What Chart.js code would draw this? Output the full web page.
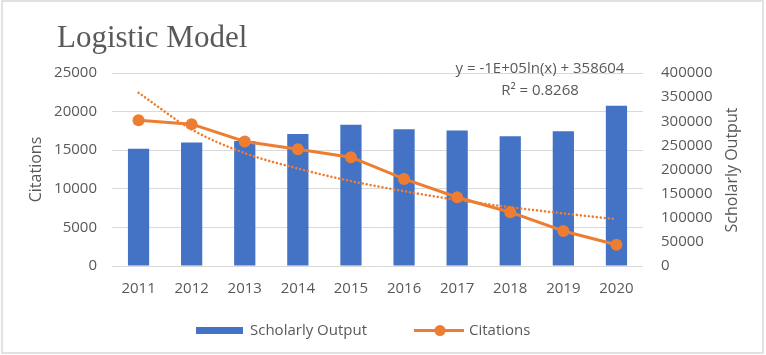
<!DOCTYPE html>
<html>

<head>
  <meta charset="UTF-8" />
  <title>Logistic Model</title>
  <script src="https://cdn.jsdelivr.net/npm/chart.js@4.4.1/dist/chart.umd.min.js"></script>
  <style>
    body { margin: 0; background: #fff; }
    #wrap { width: 766px; height: 355px; }
  </style>
</head>

<body>
  <div id="wrap"><canvas id="chart" width="766" height="355"></canvas></div>
  <script>
    const years = ['2011', '2012', '2013', '2014', '2015', '2016', '2017', '2018', '2019', '2020'];
    // bars, read on the left axis
    const scholarlyOutput = [15200, 16000, 16200, 17100, 18300, 17700, 17550, 16800, 17450, 20750];
    // line, read on the right axis
    const citations = [302000, 294000, 258000, 242000, 225500, 180500, 142500, 111500, 72500, 44000];
    // dotted trend line, read on the right axis
    const citationsTrend = [359000, 283000, 234000, 202000, 176000, 155000, 137000, 122000, 109000, 97000];
    const leftTicks = [0, 5000, 10000, 15000, 20000, 25000];
    const rightTicks = [0, 50000, 100000, 150000, 200000, 250000, 300000, 350000, 400000];

    const grey = '#595959';
    const blue = '#4472C4';
    const orange = '#ED7D31';
    const font = 'Open Sans';

    const extras = {
      id: 'extras',
      afterDraw(chart) {
        const ctx = chart.ctx;
        ctx.save();
        // outer frame
        ctx.strokeStyle = '#d9d9d9';
        ctx.lineWidth = 1.5;
        ctx.strokeRect(2, 1, 761, 352);

        // title
        ctx.fillStyle = grey;
        ctx.font = '31px "Liberation Serif"';
        ctx.textAlign = 'left';
        ctx.textBaseline = 'alphabetic';
        ctx.fillText('Logistic Model', 57, 47);

        // trend equation
        ctx.font = '15px "' + font + '"';
        ctx.textAlign = 'center';
        ctx.textBaseline = 'middle';
        ctx.fillText('y = -1E+05ln(x) + 358604', 540, 69);
        ctx.fillText('R² = 0.8268', 540, 91);

        // right axis title, reading upwards
        ctx.save();
        ctx.translate(732, 170);
        ctx.rotate(-Math.PI / 2);
        ctx.font = '16px "' + font + '"';
        ctx.fillText('Scholarly Output', 0, 0);
        ctx.restore();

        // legend
        ctx.fillStyle = blue;
        ctx.fillRect(196, 327, 47, 7);
        ctx.fillStyle = grey;
        ctx.font = '15px "' + font + '"';
        ctx.textAlign = 'left';
        ctx.fillText('Scholarly Output', 250, 331);
        ctx.strokeStyle = orange;
        ctx.lineWidth = 3;
        ctx.beginPath();
        ctx.moveTo(414, 330.5);
        ctx.lineTo(464, 330.5);
        ctx.stroke();
        ctx.fillStyle = orange;
        ctx.beginPath();
        ctx.arc(440, 330.5, 5.5, 0, Math.PI * 2);
        ctx.fill();
        ctx.fillStyle = grey;
        ctx.fillText('Citations', 469, 331);
        ctx.restore();
      }
    };

    const plain = v => String(v);

    new Chart(document.getElementById('chart'), {
      data: {
        labels: years,
        datasets: [
          {
            type: 'line',
            label: 'Trend',
            data: citationsTrend,
            yAxisID: 'y2',
            borderColor: orange,
            borderWidth: 2.6,
            borderDash: [0.01, 4],
            borderCapStyle: 'round',
            cubicInterpolationMode: 'monotone',
            pointRadius: 0,
            order: 0
          },
          {
            type: 'line',
            label: 'Citations',
            data: citations,
            yAxisID: 'y2',
            borderColor: orange,
            backgroundColor: orange,
            borderWidth: 3,
            pointRadius: 6,
            pointBorderWidth: 0,
            order: 1
          },
          {
            type: 'bar',
            label: 'Scholarly Output',
            data: scholarlyOutput,
            yAxisID: 'y',
            backgroundColor: blue,
            categoryPercentage: 1,
            barPercentage: 0.4,
            order: 2
          }
        ]
      },
      options: {
        responsive: false,
        animation: false,
        layout: { padding: { top: 73, bottom: 59, left: 0, right: 0 } },
        plugins: {
          legend: { display: false },
          title: { display: false },
          tooltip: { enabled: false }
        },
        scales: {
          x: {
            grid: { display: false, drawTicks: false },
            border: { display: false },
            ticks: { color: grey, font: { family: font, size: 15 }, padding: 14 },
            afterFit: s => { s.height = 30; }
          },
          y: {
            position: 'left',
            min: 0,
            max: 25000,
            afterBuildTicks: s => { s.ticks = leftTicks.map(v => ({ value: v })); },
            grid: { color: '#d9d9d9', lineWidth: 1, drawTicks: false },
            border: { display: false },
            ticks: { color: grey, font: { family: font, size: 15 }, padding: 15, callback: plain },
            title: {
              display: true,
              text: 'Citations',
              color: grey,
              font: { family: font, size: 16 },
              padding: { top: 27, bottom: 0 }
            },
            afterFit: s => { s.width = 112; }
          },
          y2: {
            position: 'right',
            min: 0,
            max: 400000,
            afterBuildTicks: s => { s.ticks = rightTicks.map(v => ({ value: v })); },
            grid: { display: false, drawTicks: false },
            border: { display: false },
            ticks: { color: grey, font: { family: font, size: 15 }, padding: 18, callback: plain },
            afterFit: s => { s.width = 123; }
          }
        }
      },
      plugins: [extras]
    });
  </script>
</body>

</html>
